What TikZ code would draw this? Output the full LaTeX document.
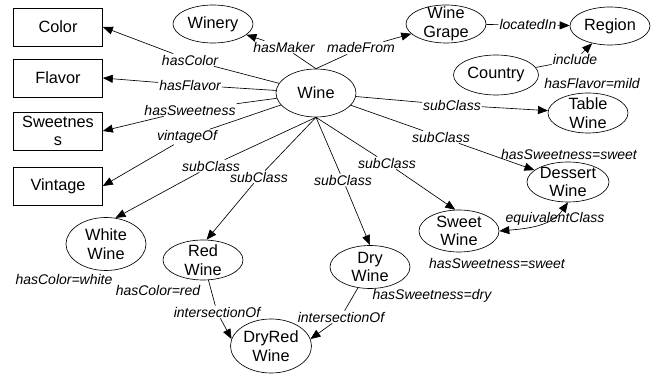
\documentclass[tikz,border=0pt]{standalone}
\usepackage{fontspec}
\setmainfont{Liberation Sans}
\usetikzlibrary{shapes.geometric,arrows.meta}
\begin{document}
\begin{tikzpicture}[x=1pt,y=-1pt,
  txt/.style={font=\fontsize{16.3}{18.5}\selectfont, align=center, inner sep=0pt},
  cls/.style={draw, ellipse, inner sep=0pt, line width=0.65pt},
  box/.style={draw, rectangle, minimum width=89pt, minimum height=38pt, inner sep=0pt, line width=0.65pt, font=\fontsize{16.3}{18.5}\selectfont, align=center},
  lbl/.style={font=\fontsize{14}{15}\selectfont\itshape, inner sep=1pt},
  conn/.style={line width=0.65pt},
  arr/.style={conn, -{Triangle[width=8pt,length=10pt]}},
  biarr/.style={conn, {Triangle[width=8pt,length=10pt]}-{Triangle[width=8pt,length=10pt]}},
]
\useasboundingbox[fill=white] (0,0) rectangle (657,374);

% boxes
\node[box] (color) at (58,27) {Color};
\node[box] (flavor) at (58,78) {Flavor};
\node[box] (sweetness) at (58,131) {Sweetnes\\s};
\node[box] (vintage) at (58,186) {Vintage};

% ellipses
\node[cls, minimum width=80pt, minimum height=38pt] (winery) at (213,24) {};
\node[txt] at (winery) {Winery};
\node[cls, minimum width=80pt, minimum height=48pt] (wine) at (316,93) {};
\node[txt] at (wine) {Wine};
\node[cls, minimum width=80pt, minimum height=38pt] (grape) at (446,24) {};
\node[txt] at (grape) {Wine\\Grape};
\node[cls, minimum width=80pt, minimum height=38pt] (region) at (610,26) {};
\node[txt] at (region) {Region};
\node[cls, minimum width=85pt, minimum height=40pt] (country) at (496,75) {};
\node[txt] at (country) {Country};
\node[cls, minimum width=80pt, minimum height=40pt] (table) at (588,113) {};
\node[txt] at (table) {Table\\Wine};
\node[cls, minimum width=82pt, minimum height=40pt] (dessert) at (568,182) {};
\node[txt] at (dessert) {Dessert\\Wine};
\node[cls, minimum width=80pt, minimum height=42pt] (sweet) at (459,231) {};
\node[txt] at (sweet) {Sweet\\Wine};
\node[cls, minimum width=80pt, minimum height=43pt] (dry) at (370,267) {};
\node[txt] at (dry) {Dry\\Wine};
\node[cls, minimum width=80pt, minimum height=53pt] (white) at (106,244) {};
\node[txt] at (white) {White\\Wine};
\node[cls, minimum width=80pt, minimum height=40pt] (red) at (203,260) {};
\node[txt] at (red) {Red\\Wine};
\node[cls, minimum width=81pt, minimum height=54pt] (dryred) at (271,346) {};
\node[txt] at (dryred) {DryRed\\Wine};

% edge labels
\node[lbl] (lColor) at (190,60) {hasColor};
\node[lbl] (lFlavor) at (190,85) {hasFlavor};
\node[lbl] (lSweet) at (190,110) {hasSweetness};
\node[lbl] (lVint) at (187,137) {vintageOf};
\node[lbl] (lSubW) at (211,166) {subClass};
\node[lbl] (lSubR) at (259,177) {subClass};
\node[lbl] (lMaker) at (284,47) {hasMaker};
\node[lbl] (lMade) at (361,48) {madeFrom};
\node[lbl] (lLoc) at (528,25) {locatedIn};
\node[lbl] (lInc) at (575,60) {include};
\node[lbl] (lSubT) at (452,105) {subClass};
\node[lbl] (lSubD) at (441,137) {subClass};
\node[lbl] (lSubS) at (387,163) {subClass};
\node[lbl] (lSubDry) at (343,180) {subClass};
\node[lbl] (lInt1) at (217,312) {intersectionOf};
\node[lbl] (lInt2) at (341,317) {intersectionOf};

% attribute labels
\node[lbl] (aMild) at (592,84) {hasFlavor=mild};
\node[lbl] (aDesSw) at (569,154) {hasSweetness=sweet};
\node[lbl] (aSwSw) at (497,263) {hasSweetness=sweet};
\node[lbl] (aDry) at (432,296) {hasSweetness=dry};
\node[lbl] (aWhite) at (64,279) {hasColor=white};
\node[lbl] (aRed) at (158,291) {hasColor=red};

% edges
\draw[conn] (wine) -- (lColor);   \draw[arr] (lColor) -- (color.east);
\draw[conn] (wine) -- (lFlavor);  \draw[arr] (lFlavor) -- (flavor.east);
\draw[conn] (wine) -- (lSweet);   \draw[arr] (lSweet) -- (sweetness.east);
\draw[conn] (wine) -- (lVint);    \draw[arr] (lVint) -- (vintage.east);
\draw[conn] (wine.north) -- (lMaker); \draw[arr] (lMaker) -- (winery);
\draw[conn] (wine.north) -- (lMade);  \draw[arr] (lMade) -- (grape);
\draw[conn] (grape) -- (lLoc);    \draw[arr] (lLoc) -- (region);
\draw[conn] (country) -- (lInc);  \draw[arr] (lInc) -- (region);
\draw[conn] (wine) -- (lSubT);    \draw[arr] (lSubT) -- (table);
\draw[conn] (wine) -- (lSubD);    \draw[arr] (lSubD) -- (dessert);
\draw[conn] (wine.south) -- (lSubS);  \draw[arr] (lSubS) -- (sweet.100);
\draw[conn] (wine.south) -- (lSubDry); \draw[arr] (lSubDry) -- (dry.north);
\draw[conn] (wine.south) -- (lSubR);  \draw[arr] (lSubR) -- (red.80);
\draw[conn] (wine.south) -- (lSubW);  \draw[arr] (lSubW) -- (white.70);
\draw[conn] (red) -- (lInt1);     \draw[arr] (lInt1) -- (dryred.170);
\draw[conn] (dry) -- (lInt2);     \draw[arr] (lInt2) -- (dryred.10);
\draw[biarr] (sweet.east) to[out=5,in=235] (dessert.south);
\node[lbl] (lEq) at (555,219) {equivalentClass};
\end{tikzpicture}
\end{document}
